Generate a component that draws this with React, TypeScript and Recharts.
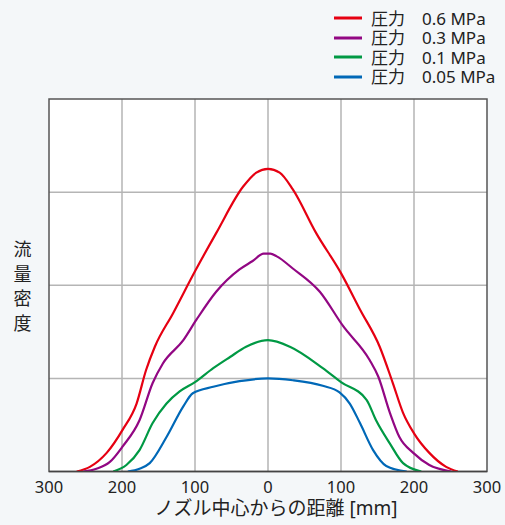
import React from "react";
import {
  LineChart,
  Line,
  XAxis,
  YAxis,
  CartesianGrid,
  ReferenceArea,
  Legend,
} from "recharts";

const xTicks = [-300, -200, -100, 0, 100, 200, 300];
const yTicks = [0, 1, 2, 3, 4];

const seriesNames = ["0.6 MPa", "0.3 MPa", "0.1 MPa", "0.05 MPa"];
const seriesColors = ["#e60012", "#920783", "#009944", "#0068b7"];

const red = [
  [-262, 0], [-244, 0.05], [-221, 0.2], [-199, 0.45], [-180, 0.73], [-167, 1.09],
  [-155, 1.34], [-130, 1.7], [-100, 2.15], [-71, 2.56], [-34, 3.06], [-16, 3.21],
  [0, 3.25], [16, 3.21], [34, 3.03], [66, 2.56], [100, 2.13], [126, 1.74],
  [153, 1.34], [171, 0.95], [185, 0.63], [200, 0.41], [221, 0.2], [244, 0.05], [260, 0],
];
const purple = [
  [-253, 0], [-235, 0.03], [-217, 0.1], [-199, 0.27], [-176, 0.55], [-158, 0.95],
  [-144, 1.16], [-116, 1.41], [-98, 1.63], [-71, 1.93], [-39, 2.17], [-21, 2.26],
  [-6, 2.34], [3, 2.34], [12, 2.31], [34, 2.18], [71, 1.93], [103, 1.56], [139, 1.2],
  [151, 1.02], [167, 0.63], [180, 0.37], [199, 0.2], [221, 0.07], [251, 0],
];
const green = [
  [-212, 0], [-194, 0.07], [-176, 0.23], [-158, 0.52], [-139, 0.73], [-121, 0.86],
  [-100, 0.96], [-75, 1.11], [-52, 1.23], [-30, 1.34], [0, 1.41], [30, 1.34],
  [75, 1.11], [100, 0.96], [135, 0.77], [148, 0.55], [167, 0.3], [185, 0.09], [210, 0],
];
const blue = [
  [-192, 0], [-176, 0.03], [-162, 0.09], [-139, 0.37], [-116, 0.7], [-103, 0.84],
  [-75, 0.91], [-39, 0.97], [0, 1.0], [34, 0.98], [75, 0.92], [98, 0.85], [112, 0.73],
  [126, 0.52], [144, 0.23], [162, 0.06], [190, 0],
];

const seriesData = [red, purple, green, blue].map((arr) =>
  arr.map(([x, y]) => ({ x, y }))
);

const FONT = '"Noto Sans", "Noto Sans CJK JP", sans-serif';
const yLabelChars = ["流", "量", "密", "度"];
const legendPrefix = "圧力";

const LegendContent = () => (
  <div style={{ fontFamily: FONT, fontSize: 17, color: "#222" }}>
    {seriesNames.map((name, i) => (
      <div
        key={name}
        style={{ display: "flex", alignItems: "center", height: 19.5, lineHeight: "19.5px" }}
      >
        <svg width={28} height={4} style={{ marginRight: 9 }}>
          <line x1={0} y1={2} x2={28} y2={2} stroke={seriesColors[i]} strokeWidth={3} />
        </svg>
        <span style={{ display: "inline-block", width: 51 }}>{legendPrefix}</span>
        <span>{name}</span>
      </div>
    ))}
  </div>
);

const YLabel = (props: any) => {
  const vb = props.viewBox || {};
  const cx = vb.x - 26.5;
  const cy = vb.y + vb.height / 2;
  return (
    <text textAnchor="middle" fill="#222" fontSize={18} fontFamily={FONT}>
      {yLabelChars.map((c, i) => (
        <tspan key={i} x={cx} y={cy - 29 + i * 24.5}>
          {c}
        </tspan>
      ))}
    </text>
  );
};

export default function App() {
  return (
    <div
      style={{
        position: "absolute",
        left: 0,
        top: 0,
        width: 505,
        height: 525,
        background: "#f4f7f9",
      }}
    >
      <LineChart
        width={505}
        height={525}
        margin={{ top: 99, right: 18, bottom: 23.5, left: 49 }}
      >
        <CartesianGrid
          fill="#ffffff"
          stroke="#b5b5b5"
          strokeWidth={1.5}
          horizontalValues={[1, 2, 3]}
          verticalValues={[-200, -100, 0, 100, 200]}
        />
        <XAxis
          type="number"
          dataKey="x"
          domain={[-300, 300]}
          ticks={xTicks}
          tickFormatter={(v: number) => String(Math.abs(v))}
          axisLine={{ stroke: "#444", strokeWidth: 1.5 }}
          tickLine={false}
          tick={{ fill: "#222", fontSize: 16.5, fontFamily: FONT }}
          tickMargin={4}
          height={30}
          allowDataOverflow
          label={{
            value: "ノズル中心からの距離 [mm]",
            position: "bottom",
            offset: 0,
            dx: 8,
            fill: "#222",
            fontSize: 19,
            fontFamily: FONT,
          }}
        />
        <YAxis type="number" domain={[0, 4]} ticks={yTicks} hide allowDataOverflow />
        <ReferenceArea
          x1={-300}
          x2={300}
          y1={0}
          y2={4}
          fill="none"
          fillOpacity={0}
          stroke="#555"
          strokeWidth={1.5}
          label={YLabel}
        />
        <Legend
          layout="horizontal"
          verticalAlign="middle"
          align="center"
          wrapperStyle={{ top: 8.5, left: 334, width: "auto" }}
          content={LegendContent}
        />
        {seriesData.map((d, i) => (
          <Line
            key={seriesNames[i]}
            data={d}
            dataKey="y"
            name={seriesNames[i]}
            type="monotone"
            stroke={seriesColors[i]}
            strokeWidth={2.2}
            dot={false}
            activeDot={false}
            isAnimationActive={false}
          />
        ))}
      </LineChart>
    </div>
  );
}
